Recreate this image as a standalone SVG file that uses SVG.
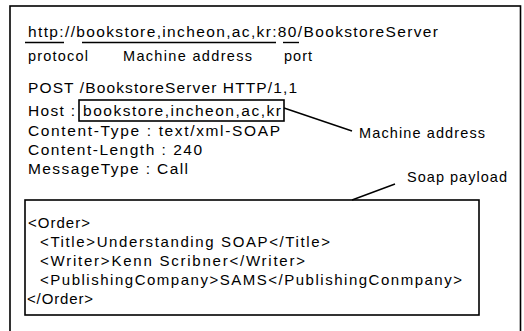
<svg xmlns="http://www.w3.org/2000/svg" width="524" height="331" viewBox="0 0 524 331">
<style>
text{font-family:"Liberation Sans",Arial,sans-serif;fill:#000;}
.h{font-size:15.5px;}
.s{font-size:14.5px;}
.x{font-size:15px;}
.box{fill:none;stroke:#000;stroke-width:1.6;}
.ln{stroke:#000;stroke-width:1.4;fill:none;}
</style>
<rect x="0" y="0" width="524" height="331" fill="#fff"/>
<g id="frame"><rect class="box" x="10" y="6" width="510.5" height="340"/></g>
<g id="url">
<text class="h" x="28" y="37" textLength="410" lengthAdjust="spacing">http://bookstore,incheon,ac,kr:80/BookstoreServer</text>
<line class="ln" x1="25" y1="42.5" x2="64" y2="42.5"/>
<line class="ln" x1="82" y1="42.5" x2="276" y2="42.5"/>
<line class="ln" x1="283" y1="42.5" x2="299" y2="42.5"/>
<text class="s" x="28" y="61" textLength="60" lengthAdjust="spacing">protocol</text>
<text class="s" x="123" y="61" textLength="129" lengthAdjust="spacing">Machine address</text>
<text class="s" x="284" y="61" textLength="28" lengthAdjust="spacing">port</text>
</g>
<g id="headers">
<text class="h" x="28" y="93" textLength="269" lengthAdjust="spacing">POST /BookstoreServer HTTP/1,1</text>
<text class="h" x="28" y="116" textLength="47" lengthAdjust="spacing">Host :</text>
<text class="h" x="28" y="136" textLength="252" lengthAdjust="spacing">Content-Type : text/xml-SOAP</text>
<text class="h" x="28" y="155" textLength="174" lengthAdjust="spacing">Content-Length : 240</text>
<text class="h" x="28" y="174" textLength="160" lengthAdjust="spacing">MessageType : Call</text>
</g>
<g id="host-box">
<rect class="box" x="79" y="100" width="205" height="21"/>
<text class="h" x="83" y="116" textLength="198" lengthAdjust="spacing">bookstore,incheon,ac,kr</text>
</g>
<g id="machine-label"><text class="s" x="359" y="138" textLength="126" lengthAdjust="spacing">Machine address</text></g>
<g id="soap-label"><text class="s" x="407" y="182" textLength="100" lengthAdjust="spacing">Soap payload</text></g>
<g id="payload">
<rect class="box" x="25" y="200" width="454" height="115"/>
<text class="x" x="28" y="228" textLength="62" lengthAdjust="spacing">&lt;Order&gt;</text>
<text class="x" x="40" y="247" textLength="290" lengthAdjust="spacing">&lt;Title&gt;Understanding SOAP&lt;/Title&gt;</text>
<text class="x" x="40" y="266" textLength="265" lengthAdjust="spacing">&lt;Writer&gt;Kenn Scribner&lt;/Writer&gt;</text>
<text class="x" x="40" y="285" textLength="422" lengthAdjust="spacing">&lt;PublishingCompany&gt;SAMS&lt;/PublishingConmpany&gt;</text>
<text class="x" x="27" y="304" textLength="66" lengthAdjust="spacing">&lt;/Order&gt;</text>
</g>
<g id="connectors">
<line class="ln" x1="284" y1="108" x2="352" y2="131"/>
<line class="ln" x1="395" y1="184" x2="352" y2="200"/>
</g>
</svg>
